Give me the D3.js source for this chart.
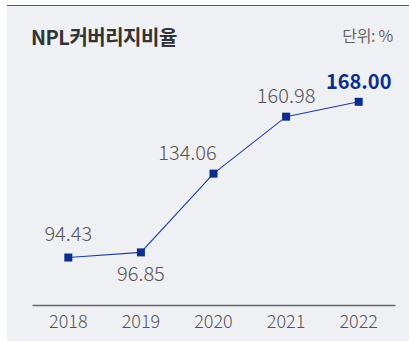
<!DOCTYPE html>
<html>
<head>
<meta charset="utf-8">
<script src="https://cdn.jsdelivr.net/npm/d3@7"></script>
<style>
  html, body { margin: 0; padding: 0; background: #ffffff; }
  svg { display: block; }
</style>
</head>
<body>
<script>
// NPL coverage ratio, 2018-2022 (%)
const years = ["2018", "2019", "2020", "2021", "2022"];
const ratios = [94.43, 96.85, 134.06, 160.98, 168.00];
const valueLabels = ["94.43", "96.85", "134.06", "160.98", "168.00"];
const title = "NPL커버리지비율";
const unitText = "단위: %";

const W = 409, H = 342;
const svg = d3.select("body").append("svg").attr("width", W).attr("height", H);

// card background and top rule
svg.append("rect").attr("x", 7).attr("y", 5).attr("width", W - 7).attr("height", 336)
  .attr("fill", "#eff0f4");
svg.append("line").attr("x1", 7).attr("x2", W).attr("y1", 5.5).attr("y2", 5.5)
  .attr("stroke", "#5a5a5a").attr("stroke-width", 1.2);

const fontKR = "'Noto Sans CJK KR', 'Noto Sans', sans-serif";

svg.append("text").attr("x", 31).attr("y", 44.5)
  .attr("font-family", fontKR).attr("font-weight", 700).attr("font-size", 20)
  .attr("letter-spacing", -0.5).attr("fill", "#333333").text(title);

svg.append("text").attr("x", 393).attr("y", 42).attr("text-anchor", "end")
  .attr("font-family", fontKR).attr("font-weight", 400).attr("font-size", 16)
  .attr("letter-spacing", -0.3).attr("fill", "#666666").text(unitText);

// scales
const x = d3.scaleBand().domain(years).range([32, 395]);
const cx = d => x(d) + x.bandwidth() / 2;
const y = d3.scaleLinear().domain([72, 180]).range([305, 76.4]);

// x axis
const xAxis = svg.append("g").attr("transform", "translate(0,305)")
  .call(d3.axisBottom(x).tickSize(0).tickPadding(10));
xAxis.select(".domain").attr("stroke", "#666666").attr("stroke-width", 1.5);
xAxis.selectAll("text").attr("font-family", fontKR).attr("font-size", 18)
  .attr("font-weight", 300).attr("fill", "#555555").attr("dy", "0.71em");

// line
const pts = years.map((yr, i) => ({ yr, v: ratios[i], label: valueLabels[i], i }));
svg.append("path").datum(pts)
  .attr("fill", "none").attr("stroke", "#1f3f9e").attr("stroke-width", 1.1)
  .attr("d", d3.line().x(d => cx(d.yr)).y(d => y(d.v)));

// markers
const ms = 8;
svg.selectAll("rect.mk").data(pts).join("rect").attr("class", "mk")
  .attr("x", d => cx(d.yr) - ms / 2).attr("y", d => y(d.v) - ms / 2)
  .attr("width", ms).attr("height", ms).attr("fill", "#0b2d8c");

// value labels: placement per point (dx, dy from the marker, anchor)
const labelPlace = [
  { dx: 0, dy: -17, anchor: "middle" },
  { dx: 0, dy: 29, anchor: "middle" },
  { dx: -26, dy: -13.5, anchor: "middle" },
  { dx: 0, dy: -14, anchor: "middle" },
  { dx: 0, dy: -13, anchor: "middle" }
];
const last = pts.length - 1;
svg.selectAll("text.val").data(pts).join("text").attr("class", "val")
  .attr("x", d => cx(d.yr) + labelPlace[d.i].dx)
  .attr("y", d => y(d.v) + labelPlace[d.i].dy)
  .attr("text-anchor", d => labelPlace[d.i].anchor)
  .attr("font-family", fontKR)
  .attr("font-size", 20)
  .attr("font-weight", d => d.i === last ? 700 : 300)
  .attr("fill", d => d.i === last ? "#0b2d8c" : "#555555")
  .text(d => d.label);
</script>
</body>
</html>
